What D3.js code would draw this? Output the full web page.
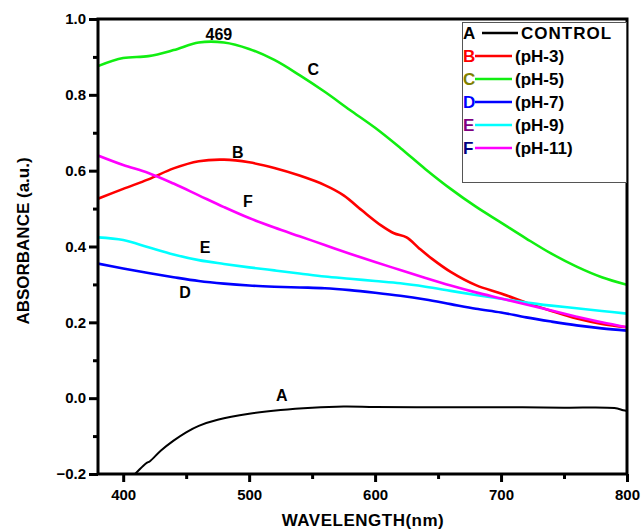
<!DOCTYPE html>
<html>
<head>
<meta charset="utf-8">
<script src="https://cdn.jsdelivr.net/npm/d3@7"></script>
<style>
    body { margin: 0; background: #fff; }
    text { font-family: Arial, "Liberation Sans", sans-serif; font-weight: bold; }
</style>
</head>
<body>
<div id="chart"></div>
<script>
// wavelength grid shared by most curves
var wl = [380, 400, 420, 440, 460, 480, 500, 520, 540, 560, 580, 600, 620, 640, 660, 680, 700, 720, 740, 760, 780, 800];

var controlWl = [404, 410, 416, 419, 421, 430, 440, 450, 460, 475, 500, 525, 550, 575, 600, 650, 700, 750, 790, 797, 800];
var controlAbs = [-0.215, -0.198, -0.178, -0.17, -0.167, -0.138, -0.112, -0.09, -0.073, -0.057, -0.041, -0.031, -0.025, -0.022, -0.023, -0.024, -0.024, -0.025, -0.026, -0.032, -0.034];

var ph3Wl = [380, 400, 420, 440, 460, 480, 500, 520, 540, 560, 575, 590, 605, 615, 625, 635, 645, 660, 680, 700, 720, 740, 760, 780, 800];
var ph3Abs = [0.526, 0.552, 0.577, 0.606, 0.625, 0.629, 0.622, 0.607, 0.587, 0.562, 0.535, 0.494, 0.455, 0.435, 0.424, 0.395, 0.368, 0.333, 0.298, 0.276, 0.252, 0.23, 0.21, 0.196, 0.187];

var ph5Abs = [0.876, 0.897, 0.902, 0.918, 0.938, 0.938, 0.921, 0.892, 0.852, 0.808, 0.76, 0.713, 0.66, 0.604, 0.552, 0.505, 0.463, 0.421, 0.381, 0.347, 0.319, 0.299];
var ph7Abs = [0.355, 0.342, 0.33, 0.319, 0.309, 0.302, 0.297, 0.294, 0.292, 0.29, 0.285, 0.278, 0.27, 0.26, 0.248, 0.236, 0.226, 0.213, 0.202, 0.192, 0.184, 0.178];
var ph9Abs = [0.424, 0.417, 0.398, 0.379, 0.364, 0.354, 0.345, 0.337, 0.329, 0.321, 0.315, 0.309, 0.303, 0.294, 0.283, 0.272, 0.262, 0.252, 0.244, 0.237, 0.23, 0.223];
var ph11Abs = [0.64, 0.615, 0.594, 0.566, 0.535, 0.504, 0.475, 0.45, 0.427, 0.404, 0.381, 0.359, 0.338, 0.317, 0.297, 0.279, 0.263, 0.247, 0.231, 0.215, 0.2, 0.187];

var xTicks = [400, 500, 600, 700, 800];
var yTicks = [-0.2, 0.0, 0.2, 0.4, 0.6, 0.8, 1.0];

var series = [
    { key: "A", name: "CONTROL", wl: controlWl, abs: controlAbs, color: "#000000", keyColor: "#000000", width: 2 },
    { key: "B", name: "(pH-3)", wl: ph3Wl, abs: ph3Abs, color: "#ff0000", keyColor: "#ff0000", width: 2.6 },
    { key: "C", name: "(pH-5)", wl: wl, abs: ph5Abs, color: "#11ee11", keyColor: "#808000", width: 2.6 },
    { key: "D", name: "(pH-7)", wl: wl, abs: ph7Abs, color: "#0000ff", keyColor: "#0000ff", width: 2.6 },
    { key: "E", name: "(pH-9)", wl: wl, abs: ph9Abs, color: "#00ffff", keyColor: "#800080", width: 2.6 },
    { key: "F", name: "(pH-11)", wl: wl, abs: ph11Abs, color: "#ff00ff", keyColor: "#000080", width: 2.6 }
];

// curve labels, placed in data units
var curveLabels = [
    { t: "469", x: 476, y: 0.945 },
    { t: "C", x: 551, y: 0.852 },
    { t: "B", x: 491, y: 0.634 },
    { t: "F", x: 499, y: 0.503 },
    { t: "E", x: 465, y: 0.384 },
    { t: "D", x: 449, y: 0.265 },
    { t: "A", x: 526, y: -0.007 }
];

window.onload = function () {

    var w = 641, h = 531;
    var left = 98, right = 627, top = 19, bottom = 474;

    var svg = d3.select("#chart").append("svg")
        .attr("width", w).attr("height", h);

    var x = d3.scaleLinear().domain([380, 800]).range([left, right]);
    var y = d3.scaleLinear().domain([-0.2, 1.0]).range([bottom, top]);

    svg.append("clipPath").attr("id", "plotclip")
        .append("rect")
        .attr("x", left).attr("y", top)
        .attr("width", right - left).attr("height", bottom - top);

    // curves
    var line = d3.line().curve(d3.curveCatmullRom.alpha(0.5));
    var plot = svg.append("g").attr("clip-path", "url(#plotclip)");
    series.forEach(function (s) {
        var pts = s.wl.map(function (v, i) { return [x(v), y(s.abs[i])]; });
        plot.append("path")
            .attr("d", line(pts))
            .attr("fill", "none")
            .attr("stroke", s.color)
            .attr("stroke-width", s.width)
            .attr("stroke-linejoin", "round");
    });

    // axes with minor ticks
    svg.append("g").attr("transform", "translate(0," + bottom + ")")
        .call(d3.axisBottom(x).tickValues(xTicks).tickSize(8).tickPadding(7).tickFormat(d3.format("d")));
    svg.append("g").attr("transform", "translate(0," + bottom + ")")
        .call(d3.axisBottom(x).tickValues([450, 550, 650, 750]).tickSize(5).tickFormat(""));
    svg.append("g").attr("transform", "translate(" + left + ",0)")
        .call(d3.axisLeft(y).tickValues(yTicks).tickSize(9).tickPadding(3).tickFormat(d3.format(".1f")));
    svg.append("g").attr("transform", "translate(" + left + ",0)")
        .call(d3.axisLeft(y).tickValues([-0.1, 0.1, 0.3, 0.5, 0.7, 0.9]).tickSize(5).tickFormat(""));

    svg.selectAll(".domain").remove();
    svg.selectAll(".tick line").attr("stroke", "#000").attr("stroke-width", 3);
    svg.selectAll(".tick text").attr("fill", "#000").style("font-size", "15px");

    // frame
    svg.append("rect")
        .attr("x", left).attr("y", top)
        .attr("width", right - left).attr("height", bottom - top)
        .attr("fill", "none").attr("stroke", "#000").attr("stroke-width", 3);

    // labels on curves
    svg.selectAll(".clabel").data(curveLabels).enter().append("text")
        .attr("class", "clabel")
        .attr("x", function (d) { return x(d.x); })
        .attr("y", function (d) { return y(d.y); })
        .attr("text-anchor", "middle")
        .style("font-size", "16px")
        .text(function (d) { return d.t; });

    // legend
    var lg = svg.append("g");
    lg.append("rect")
        .attr("x", 462.5).attr("y", 22.5).attr("width", 164).attr("height", 160)
        .attr("fill", "#fff").attr("stroke", "#555").attr("stroke-width", 1);
    series.forEach(function (s, i) {
        var cy = 33 + i * 23;
        var lx1 = i === 0 ? 482 : 475, lx2 = i === 0 ? 518 : 512;
        lg.append("text").attr("x", 463).attr("y", cy + 6)
            .attr("fill", s.keyColor).style("font-size", "17px").text(s.key);
        lg.append("line").attr("x1", lx1).attr("x2", lx2).attr("y1", cy).attr("y2", cy)
            .attr("stroke", s.color).attr("stroke-width", 2.4);
        lg.append("text").attr("x", lx2 + 3).attr("y", cy + 6)
            .attr("fill", "#000").style("font-size", "17px")
            .style("letter-spacing", i === 0 ? "1px" : "0px")
            .text(s.name);
    });

    // axis titles
    svg.append("text")
        .attr("transform", "translate(29," + 241 + ") rotate(-90)")
        .attr("text-anchor", "middle")
        .style("font-size", "17px")
        .text("ABSORBANCE (a.u.)");
    svg.append("text")
        .attr("x", 363).attr("y", 526)
        .attr("text-anchor", "middle")
        .style("font-size", "17px")
        .style("letter-spacing", "0.5px")
        .text("WAVELENGTH(nm)");
};
</script>
</body>
</html>
